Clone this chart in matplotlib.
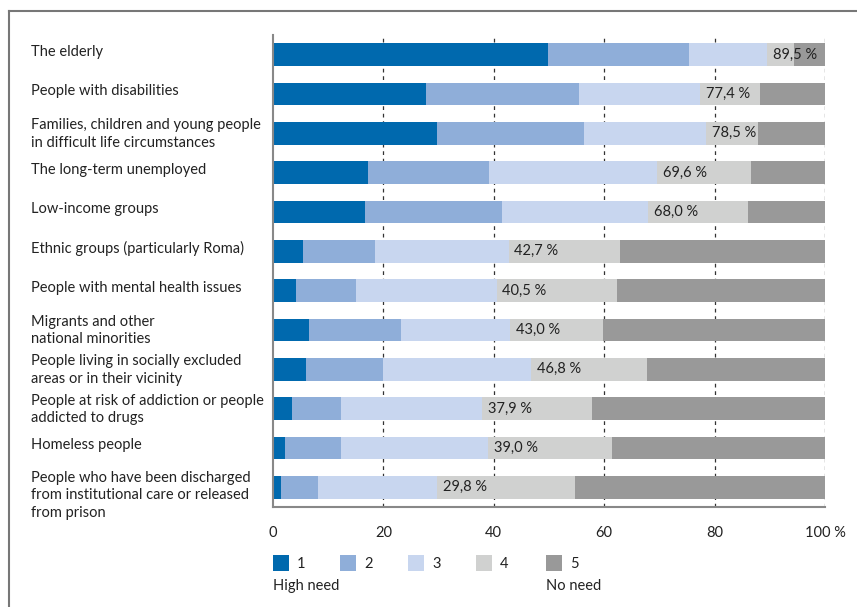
import matplotlib
matplotlib.use("Agg")
import matplotlib.pyplot as plt
from matplotlib.patches import Rectangle
from matplotlib.lines import Line2D
import matplotlib.transforms as mtrans
import numpy as np

plt.rcParams['font.family'] = ['Lato', 'DejaVu Sans']

categories = [
    "The elderly",
    "People with disabilities",
    "Families, children and young people\nin difficult life circumstances",
    "The long-term unemployed",
    "Low-income groups",
    "Ethnic groups (particularly Roma)",
    "People with mental health issues",
    "Migrants and other\nnational minorities",
    "People living in socially excluded\nareas or in their vicinity",
    "People at risk of addiction or people\naddicted to drugs",
    "Homeless people",
    "People who have been discharged\nfrom institutional care or released\nfrom prison",
]
need1 = [49.8, 27.8, 29.7, 17.3, 16.6, 5.5, 4.2, 6.6, 6.0, 3.4, 2.1, 1.5]
need2 = [25.6, 27.6, 26.6, 21.8, 24.8, 12.9, 10.8, 16.5, 14.0, 9.0, 10.3, 6.6]
need3 = [14.1, 22.0, 22.2, 30.5, 26.6, 24.3, 25.5, 19.9, 26.8, 25.5, 26.6, 21.7]
need4 = [4.9, 10.9, 9.3, 17.0, 18.0, 20.1, 21.8, 16.7, 20.9, 19.9, 22.5, 24.9]
need5 = [5.6, 11.7, 12.2, 13.4, 14.0, 37.2, 37.7, 40.3, 32.3, 42.2, 38.5, 45.3]
top3_labels = ["89,5 %", "77,4 %", "78,5 %", "69,6 %", "68,0 %", "42,7 %",
               "40,5 %", "43,0 %", "46,8 %", "37,9 %", "39,0 %", "29,8 %"]
legend_labels = ["1", "2", "3", "4", "5"]
scale_labels = ["High need", "No need"]
xticks = [0, 20, 40, 60, 80, 100]
xtick_labels = ["0", "20", "40", "60", "80", "100 %"]

colors = ["#0069ae", "#8faed9", "#c8d6ef", "#d0d1d0", "#999999"]
text_color = "#222222"

W, H = 857, 607
fig = plt.figure(figsize=(W / 100, H / 100), dpi=100)

def fx(x):
    return x / W

def fy(y):
    return 1 - y / H

ax = fig.add_axes([fx(273), fy(507), fx(825) - fx(273), (507 - 35) / H])

series = [need1, need2, need3, need4, need5]
y = np.arange(len(categories))
left = np.zeros(len(categories))
for vals, c in zip(series, colors):
    ax.barh(y, vals, left=left, height=0.58, color=c, edgecolor='none', zorder=2)
    left = left + np.array(vals)

cum3 = np.array(need1) + np.array(need2) + np.array(need3)
for i, lab in enumerate(top3_labels):
    ax.text(cum3[i] + 1.0, y[i], lab, va='center', ha='left', fontsize=10.5,
            color=text_color, zorder=3)

ax.set_xlim(0, 100)
ax.set_ylim(len(categories) - 0.5, -0.5)
ax.set_xticks(xticks)
ax.set_xticklabels(xtick_labels, fontsize=10.5, color=text_color)
ax.set_yticks([])
ax.tick_params(axis='x', length=0, pad=14)
for s in ['top', 'right']:
    ax.spines[s].set_visible(False)
for s in ['left', 'bottom']:
    ax.spines[s].set_color('#888888')
    ax.spines[s].set_linewidth(1.5)
ax.set_axisbelow(True)
for xv in xticks[1:]:
    ax.axvline(xv, color='#333333', linewidth=0.9, linestyle=(0, (3, 3)), zorder=1)

# category labels
trans = mtrans.blended_transform_factory(fig.transFigure, ax.transData)
for i, cat in enumerate(categories):
    nl = cat.count("\n")
    yy = y[i] - 0.08 if nl == 0 else y[i] + (0.2 if nl == 2 else 0.02)
    fig.text(fx(31), yy, cat, transform=trans, va='center', ha='left',
             fontsize=10.5, color=text_color, linespacing=1.3)

# legend
sq_x = [273, 340, 408, 476, 546]
for sx, c, lab in zip(sq_x, colors, legend_labels):
    fig.add_artist(Rectangle((fx(sx), fy(571)), 16 / W, 16 / H,
                             transform=fig.transFigure, facecolor=c, edgecolor='none'))
    fig.text(fx(sx + 24), fy(564), lab, va='center', ha='left', fontsize=10.5,
             color=text_color)
fig.text(fx(273), fy(586), scale_labels[0], va='center', ha='left', fontsize=10.5,
         color=text_color)
fig.text(fx(546), fy(586), scale_labels[1], va='center', ha='left', fontsize=10.5,
         color=text_color)

# outer frame (top and left)
fig.add_artist(Line2D([fx(9), 1], [fy(11), fy(11)], transform=fig.transFigure,
                      color='#777777', linewidth=1.5))
fig.add_artist(Line2D([fx(9), fx(9)], [fy(11), 0], transform=fig.transFigure,
                      color='#777777', linewidth=1.5))

fig.savefig("out.png", dpi=100)
